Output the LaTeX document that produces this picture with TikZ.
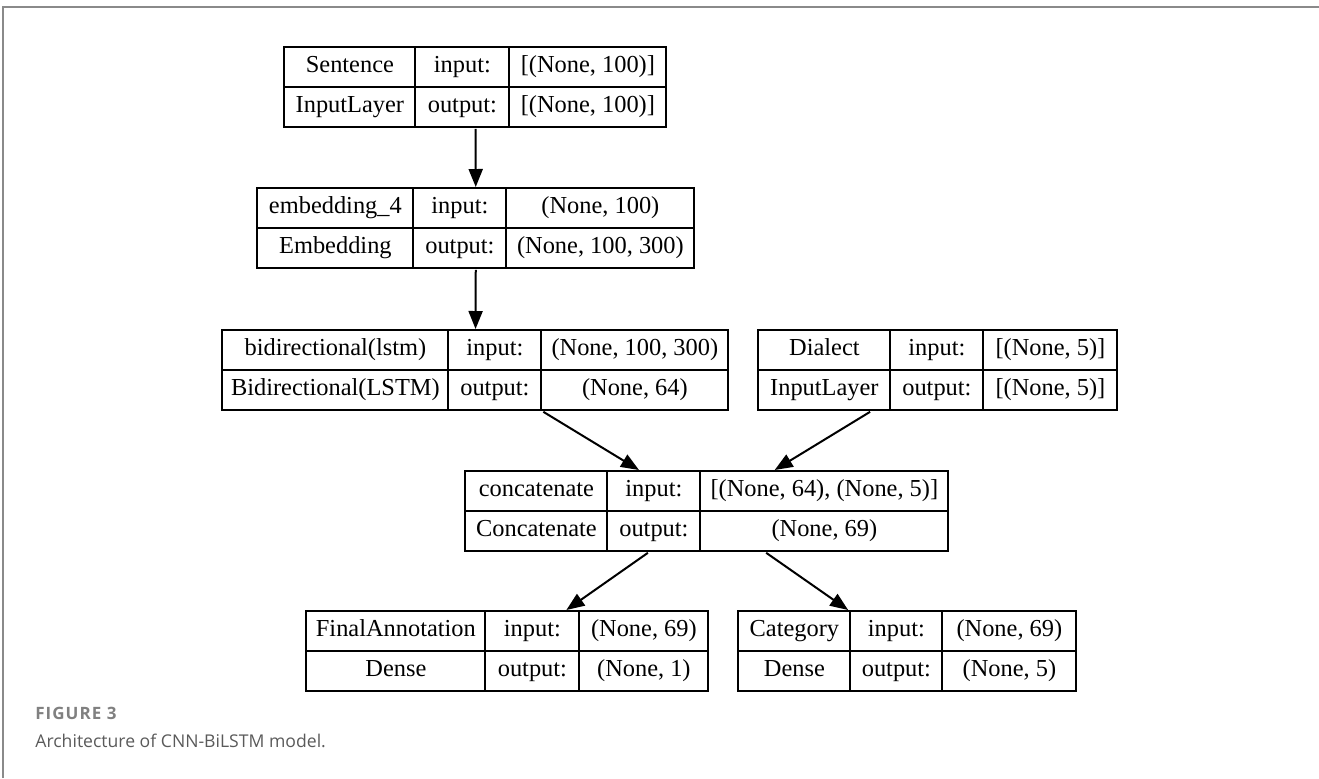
\documentclass[tikz,border=0pt]{standalone}
\usepackage{fontspec}
\setmainfont{Liberation Serif}
\newfontfamily\capfont{Open Sans}
\usetikzlibrary{matrix,arrows.meta}
\definecolor{framegray}{HTML}{8A8A8A}
\definecolor{capgray}{HTML}{5A5A5A}
\definecolor{figgray}{HTML}{808080}
\tikzset{
  layer/.style n args={4}{matrix of nodes, anchor=north west, inner sep=0pt,
    column sep=-1pt, row sep=-1pt,
    nodes={draw, line width=1pt, anchor=center, minimum height=#4*0.5pt,
      inner sep=0pt, text height=0.72em, text depth=0.22em,
      font=\fontsize{12.2}{14}\selectfont},
    column 1/.style={nodes={minimum width=#1*0.5pt}},
    column 2/.style={nodes={minimum width=#2*0.5pt}},
    column 3/.style={nodes={minimum width=#3*0.5pt}}},
  edge/.style={-{Triangle[length=9pt,width=7pt]}, line width=1pt},
}
\begin{document}
\begin{tikzpicture}[x=0.5pt,y=-0.5pt]
\useasboundingbox (0,0) rectangle (1319,778);
\draw[framegray, line width=1pt] (3,778) -- (3,7) -- (1319,7);
% layers
\matrix (sent) [layer={131}{94}{157}{40}] at (283,46) {
 Sentence & input: & {[(None, 100)]} \\
 InputLayer & output: & {[(None, 100)]} \\
};
\matrix (emb) [layer={156}{93}{188}{40}] at (256,187) {
 embedding\_4 & input: & (None, 100) \\
 Embedding & output: & (None, 100, 300) \\
};
\matrix (bilstm) [layer={226}{93}{187}{40}] at (221,329) {
 bidirectional(lstm) & input: & (None, 100, 300) \\
 Bidirectional(LSTM) & output: & (None, 64) \\
};
\matrix (dialect) [layer={132}{93}{134}{40}] at (757,329) {
 Dialect & input: & {[(None, 5)]} \\
 InputLayer & output: & {[(None, 5)]} \\
};
\matrix (concat) [layer={142}{93}{248}{40}] at (464,470) {
 concatenate & input: & {[(None, 64), (None, 5)]} \\
 Concatenate & output: & (None, 69) \\
};
\matrix (final) [layer={179}{94}{129}{40}] at (305,610) {
 FinalAnnotation & input: & (None, 69) \\
 Dense & output: & (None, 1) \\
};
\matrix (cat) [layer={112}{92}{134}{40}] at (737,610) {
 Category & input: & (None, 69) \\
 Dense & output: & (None, 5) \\
};
% connectors
\foreach \a/\b in {sent/emb, emb/bilstm, bilstm/concat, dialect/concat, concat/final, concat/cat}
  \draw[edge] (\a) -- (\b);
% caption
\node (fig) [anchor=base west, inner sep=0pt, text=figgray, font=\capfont\bfseries\fontsize{8.5}{10}\selectfont\addfontfeatures{LetterSpace=6}] at (35,719) {FIGURE 3};
\node (capt) [anchor=base west, inner sep=0pt, text=capgray, font=\capfont\fontsize{8.8}{11}\selectfont] at (35,747) {Architecture of CNN-BiLSTM model.};
\end{tikzpicture}
\end{document}
